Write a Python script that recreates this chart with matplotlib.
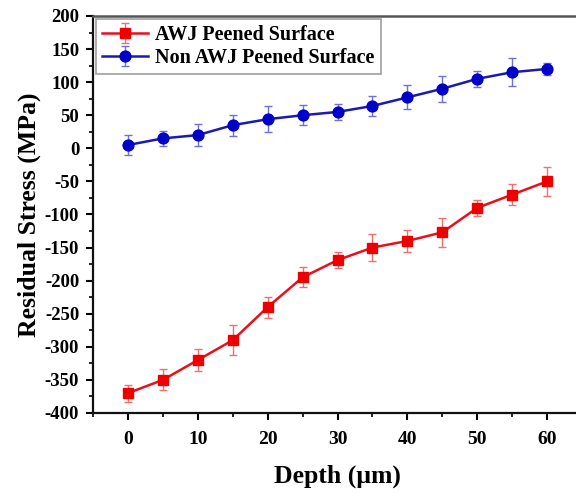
import matplotlib
matplotlib.use("Agg")
import matplotlib.pyplot as plt
from matplotlib.ticker import MultipleLocator

# Depth profile of residual stress
depth = [0, 5, 10, 15, 20, 25, 30, 35, 40, 45, 50, 55, 60]
awj_stress = [-370, -350, -320, -290, -240, -195, -169, -150, -140, -127, -90, -70, -50]
awj_err = [13, 16, 17, 23, 16, 15, 12, 20, 17, 22, 12, 16, 22]
non_awj_stress = [5, 15, 20, 35, 44, 50, 55, 64, 77, 90, 105, 115, 120]
non_awj_err = [15, 11, 17, 16, 20, 15, 12, 15, 18, 20, 12, 21, 9]

labels = ["AWJ Peened Surface", "Non AWJ Peened Surface"]
x_ticks = [0, 10, 20, 30, 40, 50, 60]
y_ticks = [-400, -350, -300, -250, -200, -150, -100, -50, 0, 50, 100, 150, 200]

plt.rcParams["font.family"] = ["Liberation Serif", "DejaVu Serif"]
plt.rcParams["font.weight"] = "bold"
plt.rcParams["axes.unicode_minus"] = False

fig = plt.figure(figsize=(5.76, 4.98), dpi=100)
ax = fig.add_axes([0.1615, 0.1707, 0.8489, 0.7972])

ax.errorbar(depth, awj_stress, yerr=awj_err, color="#e8101a", lw=1.8,
            marker="s", ms=6.8, mfc="#ee0000", mec="#ee0000",
            ecolor="#f07070", elinewidth=1.0, capsize=3, capthick=1.0,
            label=labels[0], zorder=3)
ax.errorbar(depth, non_awj_stress, yerr=non_awj_err, color="#1a1ab0", lw=1.8,
            marker="o", ms=7.8, mfc="#0000c8", mec="#0000c8",
            ecolor="#7070d8", elinewidth=1.0, capsize=3, capthick=1.0,
            label=labels[1], zorder=3)

ax.set_xlim(-5, 65)
ax.set_ylim(-400, 200)
ax.set_xticks(x_ticks)
ax.set_yticks(y_ticks)
ax.xaxis.set_minor_locator(MultipleLocator(5))
ax.yaxis.set_minor_locator(MultipleLocator(25))
ax.tick_params(which="major", direction="out", length=5, width=1.5, pad=5)
ax.tick_params(axis="x", which="major", labelsize=14, pad=8)
ax.tick_params(axis="y", which="major", labelsize=13.5)
ax.tick_params(which="minor", direction="out", length=3, width=1.2)
for t in ax.get_xticklabels() + ax.get_yticklabels():
    t.set_fontweight("bold")

for side in ("left", "bottom"):
    ax.spines[side].set_linewidth(1.6)
    ax.spines[side].set_color("#111111")
ax.spines["top"].set_linewidth(1.8)
ax.spines["top"].set_color("#555555")
ax.spines["right"].set_visible(False)

ax.set_xlabel("Depth (μm)", fontsize=18.5, fontweight="bold", labelpad=12)
ax.set_ylabel("Residual Stress (MPa)", fontsize=18.5, fontweight="bold", labelpad=3)

leg = ax.legend(loc="upper left", bbox_to_anchor=(0.0, 1.0), fontsize=14.5,
                frameon=True, fancybox=False, edgecolor="#888888",
                handlelength=2.3, handletextpad=0.35, borderpad=0.3,
                labelspacing=0.15, borderaxespad=0.15)
leg.get_frame().set_linewidth(1.2)
for t in leg.get_texts():
    t.set_fontweight("bold")

fig.savefig("out.png", dpi=100)
